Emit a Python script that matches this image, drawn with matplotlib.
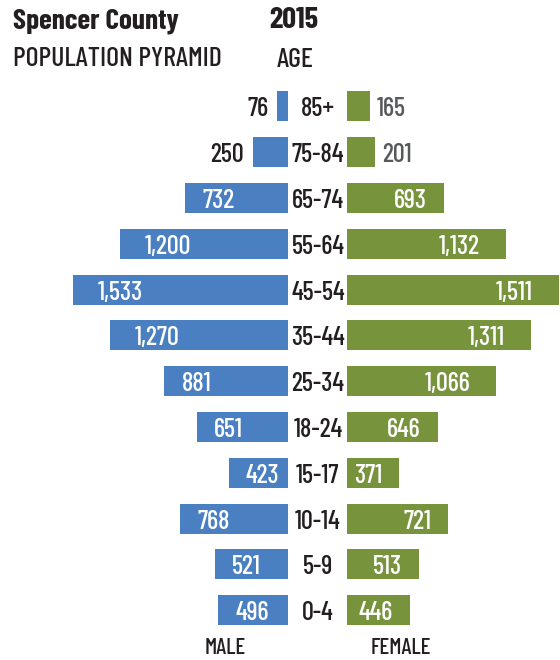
import matplotlib
matplotlib.use("Agg")
import matplotlib.pyplot as plt
from matplotlib.transforms import blended_transform_factory

ages = ["85+", "75-84", "65-74", "55-64", "45-54", "35-44", "25-34",
        "18-24", "15-17", "10-14", "5-9", "0-4"]
male = [76, 250, 732, 1200, 1533, 1270, 881, 651, 423, 768, 521, 496]
female = [165, 201, 693, 1132, 1511, 1311, 1066, 646, 371, 721, 513, 446]

BLUE = "#4a80c1"
GREEN = "#77933c"
DARK = "#231f20"
GREY = "#58595b"
FONT = "Barlow Condensed"
plt.rcParams["font.family"] = [FONT, "DejaVu Sans"]

W, H = 560, 660
fig = plt.figure(figsize=(W / 100, H / 100), dpi=100)
PX = 0.1402           # pixels per person
PT = 0.72             # points per pixel
top, bot = 83.5, 633.0
mid_l, mid_r = 288, 347

axm = fig.add_axes([0, 1 - bot / H, mid_l / W, (bot - top) / H])
axf = fig.add_axes([mid_r / W, 1 - bot / H, (W - mid_r) / W, (bot - top) / H])
axm.set_xlim(mid_l / PX, 0)
axf.set_xlim(0, (W - mid_r) / PX)
for ax in (axm, axf):
    ax.set_ylim(len(ages) - 0.5, -0.5)
    ax.axis("off")

ypos = list(range(len(ages)))
axm.barh(ypos, male, height=0.655, color=BLUE)
axf.barh(ypos, female, height=0.655, color=GREEN)

FS = 19
BASE = -10 * PT   # baseline 10 px below row centre


def fmt(v):
    return f"{v:,}"


for i, (m, f) in enumerate(zip(male, female)):
    lm, lf = fmt(m), fmt(f)
    # male
    if m < 300:
        axm.annotate(lm, (m, i), xytext=(-9 * PT, BASE), textcoords="offset points",
                     ha="right", va="baseline", fontsize=FS, color=DARK, weight=500)
    else:
        pad = 25 if m >= 1000 else 17
        axm.annotate(lm, (m, i), xytext=(pad * PT, BASE), textcoords="offset points",
                     ha="left", va="baseline", fontsize=FS, color="white", weight=500)
    # female
    if f < 300:
        axf.annotate(lf, (f, i), xytext=(7 * PT, BASE), textcoords="offset points",
                     ha="left", va="baseline", fontsize=FS, color=GREY, weight=500)
    else:
        pad = 26 if f >= 1000 else 17
        axf.annotate(lf, (f, i), xytext=(-pad * PT, BASE), textcoords="offset points",
                     ha="right", va="baseline", fontsize=FS, color="white", weight=500)

blend = blended_transform_factory(fig.transFigure, axm.transData)
for i, a in enumerate(ages):
    axm.annotate(a, (318 / W, i), xycoords=blend, xytext=(0, BASE),
                 textcoords="offset points", ha="center", va="baseline",
                 fontsize=FS, color=DARK, weight=500, annotation_clip=False)


def ftext(x, ybase, s, **kw):
    fig.text(x / W, 1 - ybase / H, s, va="baseline", color=DARK, **kw)


ftext(13, 28, "Spencer County", fontsize=21, weight=700, ha="left")
ftext(13, 66, "POPULATION PYRAMID", fontsize=20, weight=500, ha="left")
ftext(294, 28, "2015", fontsize=22, weight=700, ha="center")
ftext(295, 67, "AGE", fontsize=20, weight=500, ha="center")
ftext(225, 654, "MALE", fontsize=16.5, weight=500, ha="center")
ftext(401, 654, "FEMALE", fontsize=16.5, weight=500, ha="center")

fig.savefig("out.png", dpi=100)
